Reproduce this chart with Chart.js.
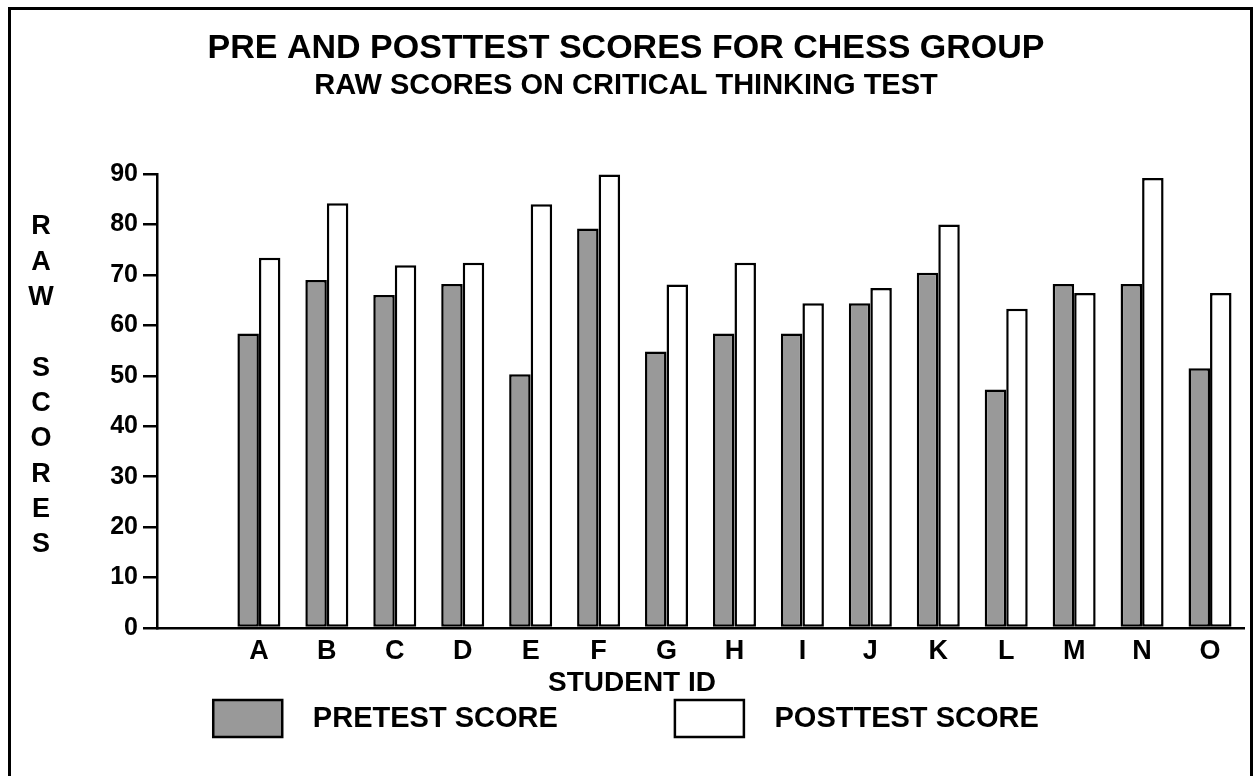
<!DOCTYPE html>
<html>
<head>
<meta charset="utf-8">
<script src="https://cdn.jsdelivr.net/npm/chart.js@4.4.1/dist/chart.umd.min.js"></script>
<style>
html,body{margin:0;padding:0;background:#fff;width:1255px;height:776px;overflow:hidden}
#wrap{position:relative;width:1255px;height:776px}
#frame{position:absolute;left:8px;top:7px;width:1239px;height:800px;border:3px solid #000;pointer-events:none}
canvas{position:absolute;left:0;top:0}
</style>
</head>
<body>
<div id="wrap"><canvas id="c" width="1255" height="776"></canvas><div id="frame"></div></div>
<script>
// ---- data ----
const categories = ['', 'A', 'B', 'C', 'D', 'E', 'F', 'G', 'H', 'I', 'J', 'K', 'L', 'M', 'N', 'O'];
const pretest  = [null, 58.4, 69.0, 66.0, 68.2, 50.3, 79.2, 54.8, 58.4, 58.4, 64.4, 70.4, 47.3, 68.2, 68.2, 51.5];
const posttest = [null, 73.4, 84.2, 71.9, 72.4, 84.0, 89.9, 68.1, 72.4, 64.4, 67.4, 80.0, 63.3, 66.4, 89.2, 66.4];
const yTickValues = [0, 10, 20, 30, 40, 50, 60, 70, 80, 90];
const seriesNames = ['PRETEST SCORE', 'POSTTEST SCORE'];
const titleText = 'PRE AND POSTTEST SCORES FOR CHESS GROUP';
const subtitleText = 'RAW SCORES ON CRITICAL THINKING TEST';
const xTitleText = 'STUDENT ID';
const yTitleLetters = ['R', 'A', 'W', '', 'S', 'C', 'O', 'R', 'E', 'S'];

const FONT = "'Liberation Sans', Arial, Helvetica, sans-serif";
Chart.defaults.font.family = FONT;
Chart.defaults.font.weight = 'bold';
Chart.defaults.color = '#000';

const extraText = {
  id: 'extraText',
  afterDraw(chart) {
    const ctx = chart.ctx;
    ctx.save();
    ctx.fillStyle = '#000';
    ctx.textAlign = 'center';
    ctx.textBaseline = 'middle';
    ctx.font = 'bold 27px ' + FONT;
    yTitleLetters.forEach((ch, i) => { if (ch) ctx.fillText(ch, 41, 227 + i * 35.3); });
    ctx.font = 'bold 28px ' + FONT;
    ctx.fillText(xTitleText, 632, 683);
    ctx.restore();
  }
};

const legendGap = '\u2003\u2003\u2003  ';

new Chart(document.getElementById('c'), {
  type: 'bar',
  data: {
    labels: categories,
    datasets: [
      { label: seriesNames[0], data: pretest, backgroundColor: '#999999', borderColor: '#000', borderWidth: 2.5,
        borderSkipped: false, categoryPercentage: 0.633, barPercentage: 1.0 },
      { label: seriesNames[1], data: posttest, backgroundColor: '#ffffff', borderColor: '#000', borderWidth: 2.5,
        borderSkipped: false, categoryPercentage: 0.633, barPercentage: 1.0 }
    ]
  },
  options: {
    responsive: false,
    devicePixelRatio: 1,
    animation: false,
    events: [],
    layout: { padding: { left: 8, right: 11, top: 0, bottom: 29 } },
    plugins: {
      title: { display: true, text: titleText, color: '#000',
        font: { family: FONT, size: 34, weight: 'bold' }, padding: { top: 28, bottom: 0 } },
      subtitle: { display: true, text: subtitleText, color: '#000',
        font: { family: FONT, size: 29, weight: 'bold' }, padding: { top: 0, bottom: 70.4 } },
      legend: {
        position: 'bottom',
        labels: {
          boxWidth: 69, boxHeight: 37, padding: 14, color: '#000',
          font: { family: FONT, size: 29, weight: 'bold' },
          generateLabels: (chart) => chart.data.datasets.map((ds, i) => ({
            text: '  ' + ds.label + (i === 0 ? legendGap : ''),
            fillStyle: ds.backgroundColor, strokeStyle: '#000', lineWidth: 2.5,
            hidden: false, datasetIndex: i, fontColor: '#000'
          }))
        }
      },
      tooltip: { enabled: false }
    },
    scales: {
      x: {
        grid: { display: true, drawOnChartArea: false, drawTicks: false },
        border: { display: true, color: '#000', width: 2.5 },
        ticks: { color: '#000', font: { family: FONT, size: 27, weight: 'bold' }, padding: 7, maxRotation: 0, autoSkip: false },
        afterFit: (s) => { s.height = 58; }
      },
      y: {
        min: 0, max: 90,
        grid: { drawOnChartArea: false, drawTicks: true, tickLength: 14, color: '#000', lineWidth: 2.5 },
        border: { display: true, color: '#000', width: 2.5 },
        ticks: { color: '#000', font: { family: FONT, size: 25, weight: 'bold' }, padding: 5, stepSize: 10 },
        afterBuildTicks: (s) => { s.ticks = yTickValues.map(v => ({ value: v })); },
        afterFit: (s) => { s.width = 149; }
      }
    }
  },
  plugins: [extraText]
});
</script>
</body>
</html>
